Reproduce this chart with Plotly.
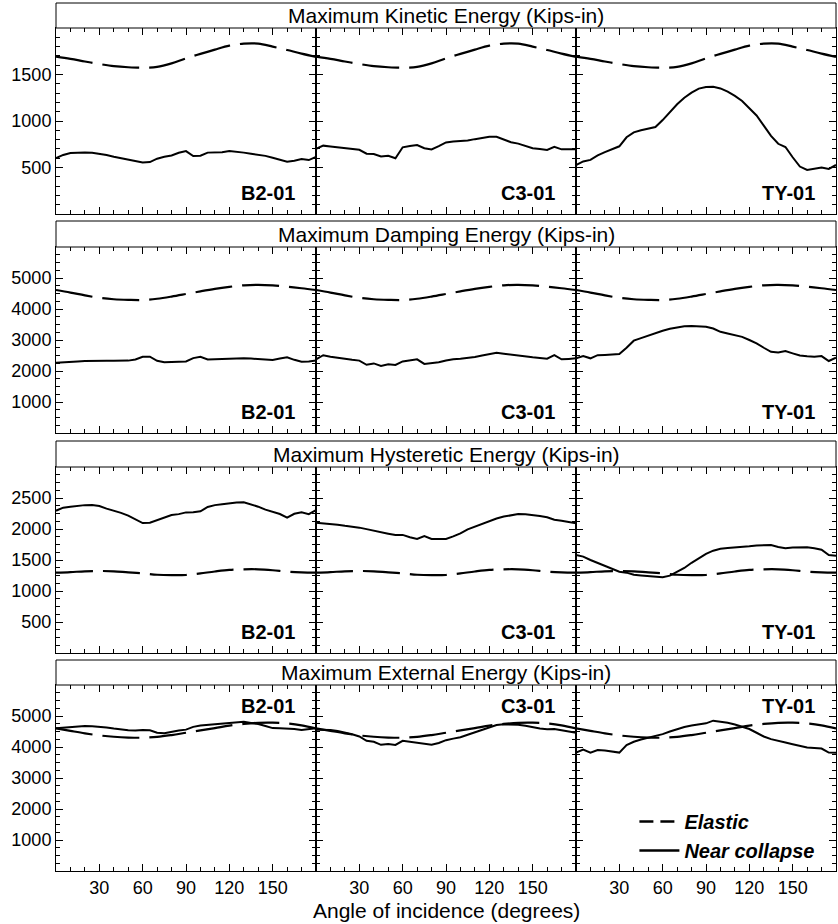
import plotly.graph_objects as go

# ---------------- data ----------------
ANGLES_5 = list(range(0, 181, 5))
ANGLES_10 = list(range(0, 181, 10))

ROW_TITLES = [
    "Maximum Kinetic Energy (Kips-in)",
    "Maximum Damping Energy (Kips-in)",
    "Maximum Hysteretic Energy (Kips-in)",
    "Maximum External Energy (Kips-in)",
]
COLUMN_LABELS = ["B2-01", "C3-01", "TY-01"]
X_TICKS = [30, 60, 90, 120, 150]

KIN_ELASTIC = [1692, 1668, 1640, 1613, 1590, 1578, 1573, 1582, 1620, 1674,
               1722, 1768, 1810, 1832, 1832, 1800, 1763, 1725, 1690]
KIN_B2 = [600, 635, 655, 660, 660, 658, 648, 634, 615, 600,
          588, 570, 553, 558, 595, 615, 630, 658, 676, 624,
          626, 660, 662, 665, 678, 672, 660, 648, 638, 625,
          605, 585, 563, 573, 591, 580, 615]
KIN_C3 = [700, 735, 725, 715, 710, 700, 690, 648, 645, 618,
          627, 600, 717, 730, 742, 708, 695, 730, 770, 780,
          784, 790, 805, 818, 830, 831, 805, 772, 757, 735,
          708, 698, 688, 722, 695, 695, 695]
KIN_TY = [527, 565, 582, 630, 665, 700, 728, 825, 878, 900,
          918, 935, 1010, 1100, 1180, 1250, 1305, 1348, 1365, 1368,
          1350, 1315, 1270, 1215, 1140, 1060, 950, 840, 755, 720,
          610, 510, 473, 485, 500, 485, 527]

DAMP_ELASTIC = [4613, 4530, 4440, 4360, 4315, 4295, 4290, 4330, 4400, 4484,
                4570, 4650, 4715, 4765, 4778, 4760, 4720, 4670, 4613]
DAMP_B2 = [2268, 2290, 2300, 2310, 2320, 2330, 2333, 2333, 2333, 2333,
           2335, 2370, 2460, 2460, 2330, 2280, 2285, 2295, 2310, 2415,
           2460, 2375, 2385, 2395, 2405, 2408, 2408, 2400, 2385, 2365,
           2355, 2400, 2440, 2360, 2300, 2310, 2340]
DAMP_C3 = [2376, 2510, 2460, 2420, 2385, 2360, 2335, 2200, 2245, 2165,
           2215, 2194, 2310, 2333, 2376, 2230, 2250, 2280, 2340, 2380,
           2395, 2415, 2455, 2500, 2545, 2591, 2560, 2525, 2500, 2470,
           2441, 2420, 2398, 2510, 2376, 2390, 2409]
DAMP_TY = [2409, 2484, 2409, 2510, 2520, 2535, 2548, 2750, 2978, 3060,
           3145, 3220, 3300, 3360, 3410, 3440, 3450, 3452, 3430, 3370,
           3265, 3210, 3150, 3100, 3000, 2892, 2750, 2620, 2595, 2645,
           2570, 2500, 2475, 2462, 2480, 2323, 2430]

HYST_ELASTIC = [1295, 1305, 1318, 1323, 1318, 1300, 1285, 1262, 1255, 1258,
                1285, 1315, 1340, 1350, 1350, 1335, 1312, 1300, 1295]
HYST_B2 = [2295, 2344, 2360, 2373, 2385, 2387, 2370, 2328, 2295, 2260,
           2215, 2150, 2095, 2100, 2140, 2180, 2226, 2240, 2268, 2269,
           2285, 2355, 2385, 2400, 2420, 2428, 2430, 2400, 2360, 2312,
           2278, 2242, 2183, 2245, 2269, 2240, 2306]
HYST_C3 = [2102, 2095, 2085, 2070, 2052, 2040, 2022, 1998, 1970, 1950,
           1925, 1903, 1905, 1866, 1838, 1887, 1840, 1838, 1839, 1880,
           1930, 1995, 2040, 2090, 2130, 2170, 2200, 2225, 2240, 2238,
           2226, 2210, 2188, 2148, 2134, 2115, 2091]
HYST_TY = [1581, 1554, 1500, 1450, 1405, 1355, 1310, 1296, 1262, 1252,
           1245, 1235, 1222, 1248, 1305, 1372, 1455, 1530, 1600, 1650,
           1680, 1692, 1700, 1706, 1722, 1735, 1738, 1740, 1710, 1690,
           1700, 1706, 1704, 1690, 1665, 1580, 1570]

EXT_ELASTIC = [4603, 4520, 4440, 4375, 4330, 4305, 4300, 4325, 4385, 4460,
               4535, 4610, 4690, 4745, 4780, 4785, 4763, 4700, 4603]
EXT_B2 = [4603, 4625, 4640, 4660, 4675, 4670, 4656, 4630, 4595, 4565,
          4540, 4530, 4550, 4540, 4460, 4445, 4500, 4535, 4560, 4650,
          4690, 4712, 4740, 4765, 4780, 4795, 4815, 4775, 4740, 4680,
          4610, 4605, 4603, 4580, 4548, 4575, 4603]
EXT_C3 = [4560, 4555, 4550, 4520, 4475, 4410, 4340, 4200, 4170, 4070,
          4095, 4065, 4200, 4172, 4145, 4115, 4070, 4130, 4220, 4270,
          4315, 4395, 4480, 4565, 4650, 4710, 4731, 4731, 4720, 4682,
          4630, 4595, 4570, 4580, 4540, 4505, 4462]
EXT_TY = [3817, 3920, 3817, 3900, 3885, 3860, 3820, 4060, 4170, 4240,
          4300, 4355, 4415, 4500, 4585, 4645, 4695, 4730, 4763, 4849,
          4825, 4785, 4725, 4655, 4580, 4460, 4340, 4255, 4190, 4145,
          4090, 4030, 3985, 3970, 3950, 3820, 3817]

ELASTIC = [KIN_ELASTIC, DAMP_ELASTIC, HYST_ELASTIC, EXT_ELASTIC]
NEAR = [[KIN_B2, KIN_C3, KIN_TY],
        [DAMP_B2, DAMP_C3, DAMP_TY],
        [HYST_B2, HYST_C3, HYST_TY],
        [EXT_B2, EXT_C3, EXT_TY]]

Y_RANGES = [[0, 2000], [0, 6000], [0, 3000], [0, 6000]]
Y_TICKS = [[500, 1000, 1500],
           [1000, 2000, 3000, 4000, 5000],
           [500, 1000, 1500, 2000, 2500],
           [1000, 2000, 3000, 4000, 5000]]
Y_MINOR = [100, 250, 125, 250]

# ---------------- layout geometry ----------------
W, H = 838, 924
ML, MR, MT, MB = 56, 2, 3, 53
PW = W - ML - MR
PH = H - MT - MB
PLOT_BOTTOM_PX = H - MB


def py(px):
    return (PLOT_BOTTOM_PX - px) / PH


# pixel rows: (title top, title bottom/plot top, plot bottom)
ROWS_PX = [(3, 28, 214), (221, 247, 433), (441, 467, 653), (660, 685, 871)]
COL_DOMAINS = [[0, 260 / 780], [260 / 780, 520 / 780], [520 / 780, 1]]

FONT = "Liberation Sans, Arial, Helvetica, sans-serif"

fig = go.Figure()
layout = {}
shapes = []
annotations = []

for r in range(4):
    t_top, p_top, p_bot = ROWS_PX[r]
    ydom = [py(p_bot), py(p_top)]
    for c in range(3):
        idx = r * 3 + c + 1
        xname = "xaxis" if idx == 1 else f"xaxis{idx}"
        yname = "yaxis" if idx == 1 else f"yaxis{idx}"
        xr = "x" if idx == 1 else f"x{idx}"
        yr = "y" if idx == 1 else f"y{idx}"

        fig.add_trace(go.Scatter(
            x=ANGLES_10, y=ELASTIC[r], mode="lines", xaxis=xr, yaxis=yr,
            line=dict(color="black", width=2.2, dash="37px,10px", shape="spline"),
            showlegend=False, name="Elastic"))
        fig.add_trace(go.Scatter(
            x=ANGLES_5, y=NEAR[r][c], mode="lines", xaxis=xr, yaxis=yr,
            line=dict(color="black", width=2),
            showlegend=False, name="Near collapse"))

        layout[xname] = dict(
            domain=COL_DOMAINS[c], anchor=yr, range=[0, 180],
            showline=True, linecolor="black", linewidth=1, mirror="allticks",
            ticks="inside", ticklen=7, tickwidth=1, tickcolor="black",
            tickvals=X_TICKS, showticklabels=(r == 3),
            tickfont=dict(family=FONT, size=18, color="black"),
            minor=dict(ticks="inside", dtick=10, tick0=0, ticklen=4,
                       tickcolor="black", tickwidth=1),
            showgrid=False, zeroline=False, fixedrange=True)
        layout[yname] = dict(
            domain=ydom, anchor=xr, range=Y_RANGES[r],
            showline=True, linecolor="black", linewidth=1, mirror="allticks",
            ticks="inside", ticklen=7, tickwidth=1, tickcolor="black",
            tickvals=Y_TICKS[r], showticklabels=(c == 0),
            tickfont=dict(family=FONT, size=18, color="black"),
            minor=dict(ticks="inside", dtick=Y_MINOR[r], tick0=0, ticklen=4,
                       tickcolor="black", tickwidth=1),
            showgrid=False, zeroline=False, fixedrange=True)

        annotations.append(dict(
            text=f"<b>{COLUMN_LABELS[c]}</b>",
            xref=f"{xr} domain", yref=f"{yr} domain",
            x=0.925, y=(0.955 if r == 3 else 0.045),
            xanchor="right", yanchor=("top" if r == 3 else "bottom"),
            showarrow=False, font=dict(family=FONT, size=20, color="black")))

    # title box
    shapes.append(dict(type="rect", xref="paper", yref="paper",
                       x0=0, x1=1, y0=py(p_top), y1=py(t_top),
                       line=dict(color="black", width=1), fillcolor="white"))
    annotations.append(dict(
        text=ROW_TITLES[r], xref="paper", yref="paper",
        x=0.5, y=(py(p_top) + py(t_top)) / 2, xanchor="center", yanchor="middle",
        showarrow=False, font=dict(family=FONT, size=21, color="black")))

annotations.append(dict(
    text="Angle of incidence (degrees)", xref="paper", yref="paper",
    x=0.5, y=py(910), xanchor="center", yanchor="middle", showarrow=False,
    font=dict(family=FONT, size=21, color="black")))

# legend entries
fig.add_trace(go.Scatter(x=[None], y=[None], mode="lines", name="Elastic",
                         line=dict(color="black", width=2.5, dash="14px,7px"),
                         xaxis="x12", yaxis="y12", showlegend=True))
fig.add_trace(go.Scatter(x=[None], y=[None], mode="lines", name="Near collapse",
                         line=dict(color="black", width=2.5),
                         xaxis="x12", yaxis="y12", showlegend=True))

fig.update_layout(
    width=W, height=H,
    margin=dict(l=ML, r=MR, t=MT, b=MB),
    paper_bgcolor="white", plot_bgcolor="white",
    font=dict(family=FONT, color="black"),
    shapes=shapes, annotations=annotations,
    legend=dict(x=0.98, y=py(870), xanchor="right", yanchor="bottom",
                bgcolor="rgba(0,0,0,0)", borderwidth=0,
                font=dict(family=FONT, size=20, color="black",
                          weight="bold", style="italic"),
                tracegroupgap=0, itemwidth=40),
    **layout,
)

fig.write_html("out.html",
               config={"displayModeBar": False},
               post_script="document.body.style.margin='0';"
                           "document.body.style.overflow='hidden';")
